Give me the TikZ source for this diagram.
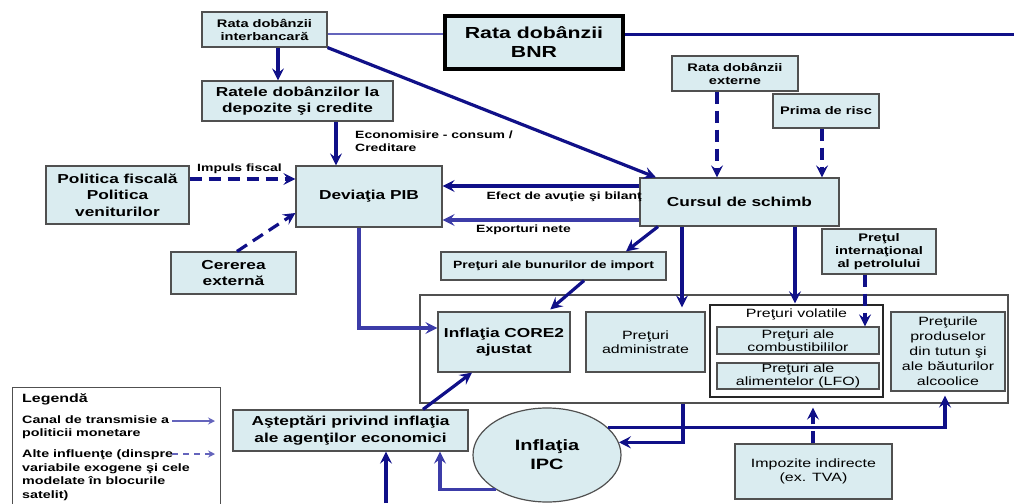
\documentclass[tikz,border=0pt]{standalone}
\usepackage{fontspec}
\setmainfont{Liberation Sans}[FakeStretch=1.33]
\usetikzlibrary{arrows.meta,shapes.geometric}
\definecolor{navy}{RGB}{16,16,136}
\definecolor{midblue}{RGB}{60,60,168}
\definecolor{lightblue}{RGB}{100,100,188}
\definecolor{boxfill}{RGB}{218,236,240}
\definecolor{boxline}{RGB}{80,80,80}
\newcommand{\myfs}[2]{\fontsize{#1pt}{#2pt}\selectfont}
\begin{document}
\begin{tikzpicture}[x=1pt,y=-1pt,
  box/.style={draw=boxline,fill=boxfill,line width=1.2pt,inner sep=0pt,align=center},
  big/.style={font=\bfseries\myfs{13}{16.5}},
  small/.style={font=\bfseries\myfs{11}{13}},
  reg/.style={font=\myfs{12}{14}},
  arr/.style={draw=navy,line width=3.2pt,-{Stealth[length=12pt,width=12pt,inset=4.5pt]}},
  darr/.style={arr,dash pattern=on 12pt off 7pt},
  lbl/.style={font=\bfseries\myfs{10.5}{13},inner sep=0pt,align=left},
  legtxt/.style={font=\bfseries\myfs{10.75}{13.5},inner sep=0pt,align=left,anchor=west},
  legarr/.style={draw=lightblue,line width=1.3pt,-{Stealth[length=7pt,width=7pt,inset=2.5pt]}},
]
\useasboundingbox (0,0) rectangle (1014,503);
\clip (0,0) rectangle (1014,503);

% top row
\node[box,small,minimum width=125pt,minimum height=35pt] (inter) at (264.5,29.5) {Rata dobânzii\\interbancară};
\node[box,draw=black,line width=4pt,minimum width=178pt,minimum height=53pt,font=\bfseries\myfs{16}{19}] (bnr) at (534,42.5) {Rata dobânzii\\BNR};
\coordinate (rend) at (1014,35);
\draw[draw=lightblue,line width=2.5pt] (inter.east |- 0,34) -- (bnr.west |- 0,34);
\draw[draw=navy,line width=3pt] (bnr.east |- rend) -- (rend);

\node[box,big,minimum width=191pt,minimum height=40pt] (ratele) at (297.5,101) {Ratele dobânzilor la\\depozite şi credite};
\node[box,small,minimum width=126pt,minimum height=35pt] (ext) at (735,73.5) {Rata dobânzii\\externe};
\node[box,small,minimum width=106pt,minimum height=34pt] (prima) at (826,111) {Prima de risc};

\node[box,big,minimum width=143pt,minimum height=58pt] (fisc) at (117.5,195) {Politica fiscală\\Politica\\veniturilor};
\node[box,big,minimum width=146pt,minimum height=61pt] (pib) at (369,196.5) {Deviaţia PIB};
\node[box,big,minimum width=199pt,minimum height=48pt] (curs) at (739.5,202) {Cursul de schimb};
\node[box,big,minimum width=125pt,minimum height=42pt] (cer) at (233.5,273) {Cererea\\externă};
\node[box,font=\bfseries\myfs{10.5}{12},minimum width=225pt,minimum height=28pt] (imp) at (553.5,266) {Preţuri ale bunurilor de import};
\node[box,small,minimum width=114pt,minimum height=45pt] (petrol) at (879,251.5) {Preţul\\internaţional\\al petrolului};

% big block
\node[draw=boxline,line width=1.2pt,fill=white,minimum width=588pt,minimum height=108pt,inner sep=0pt] (bigbox) at (714,349) {};
\node[box,big,minimum width=132pt,minimum height=60pt] (core) at (504,342) {Inflaţia CORE2\\ajustat};
\node[box,reg,minimum width=119pt,minimum height=60pt] (adm) at (645.5,342) {Preţuri\\administrate};
\node[draw=black!85,line width=1.4pt,fill=white,minimum width=173pt,minimum height=92pt,inner sep=0pt] (vol) at (796.5,351) {};
\node[reg,inner sep=0pt] (voltitle) at (796.5,314) {Preţuri volatile};
\node[box,reg,minimum width=162pt,minimum height=27pt,font=\myfs{12}{13.5}] (comb) at (798,340.5) {Preţuri ale\\combustibililor};
\node[box,reg,minimum width=162pt,minimum height=26pt,font=\myfs{12}{13.5}] (alim) at (798,376) {Preţuri ale\\alimentelor (LFO)};
\node[box,minimum width=114pt,minimum height=79pt,font=\myfs{12}{15}] (tutun) at (948,351.5) {Preţurile\\produselor\\din tutun şi\\ale băuturilor\\alcoolice};

% bottom
\node[box,big,minimum width=235pt,minimum height=41pt] (ast) at (350.5,430.5) {Aşteptări privind inflaţia\\ale agenţilor economici};
\node[box,ellipse,minimum width=148pt,minimum height=94pt,font=\bfseries\myfs{15}{19}] (ipc) at (547,455) {Inflaţia\\IPC};
\node[box,reg,minimum width=157pt,minimum height=55pt] (tax) at (813.5,471.5) {Impozite indirecte\\(ex. TVA)};

% legend
\node[draw=boxline,line width=1.2pt,fill=white,minimum width=208pt,minimum height=130pt,inner sep=0pt,anchor=north west] (legend) at (12,387) {};
\node[legtxt,font=\bfseries\myfs{12}{14}] (legt) at (22,399) {Legendă};
\node[legtxt] (leg1) at (22,427) {Canal de transmisie a\\politicii monetare};
\node[legtxt] (leg2) at (22,475) {Alte influenţe (dinspre\\variabile exogene şi cele\\modelate în blocurile\\satelit)};
\coordinate (l1a) at (172,421); \coordinate (l1b) at (215,421);
\coordinate (l2a) at (172,454); \coordinate (l2b) at (215,454);
\draw[legarr] (l1a) -- (l1b);
\draw[legarr,dash pattern=on 6pt off 5pt] (l2a) -- (l2b);

% connectors
\draw[arr] (inter.south -| 278,0) -- (ratele.north -| 278,0);
\draw[arr] (ratele.south -| 336,0) -- (pib.north -| 336,0);
\node[lbl,anchor=west] (econ) at (355,141.5) {Economisire - consum /\\Creditare};
\draw[arr] (inter.south east) -- (curs.north -| 656,0);

\draw[darr] (fisc.east |- 0,179) -- (pib.west |- 0,179);
\node[lbl] (impuls) at (239.5,169) {Impuls fiscal};
\draw[darr] (cer.north -| 237,0) -- (pib.west |- 0,213);

\draw[arr] (curs.west |- 0,186) -- (pib.east |- 0,186);
\node[lbl,anchor=east] (efect) at (642,197) {Efect de avuţie şi bilanţ};
\draw[arr,draw=midblue] (curs.west |- 0,220) -- (pib.east |- 0,220);
\node[lbl,anchor=west] (exp) at (476,230) {Exporturi nete};

\draw[darr] (ext.south -| 717,0) -- (curs.north -| 717,0);
\draw[darr] (prima.south -| 822,0) -- (curs.north -| 822,0);

\draw[arr] (curs.south -| 658,0) -- (imp.north -| 626,0);
\draw[arr,shorten >=4pt] (curs.south -| 682,0) -- (adm.north -| 682,0);
\draw[arr,shorten >=1pt] (curs.south -| 795,0) -- (vol.north -| 795,0);
\draw[darr] (petrol.south -| 865,0) -- (comb.north -| 865,0);

\draw[arr,draw=midblue] (pib.south -| 359,0) |- (core.west |- 0,328);
\draw[arr,shorten >=3pt] (imp.south -| 584,0) -- (core.north -| 548,0);
\draw[arr] (ast.north -| 423,0) -- (core.south -| 472,0);

\draw[arr] (bigbox.south -| 683,0) |- (ipc.10);
\draw[arr,shorten >=4pt] (ipc.24) -| (tutun.south -| 945,0);
\draw[darr,shorten >=4pt] (tax.north -| 813,0) -- (bigbox.south -| 813,0);

\coordinate (bot) at (386,503);
\draw[arr] (bot) -- (ast.south -| bot);
\draw[arr,draw=midblue] (ipc.214) -| (ast.south -| 440,0);
\end{tikzpicture}
\end{document}
